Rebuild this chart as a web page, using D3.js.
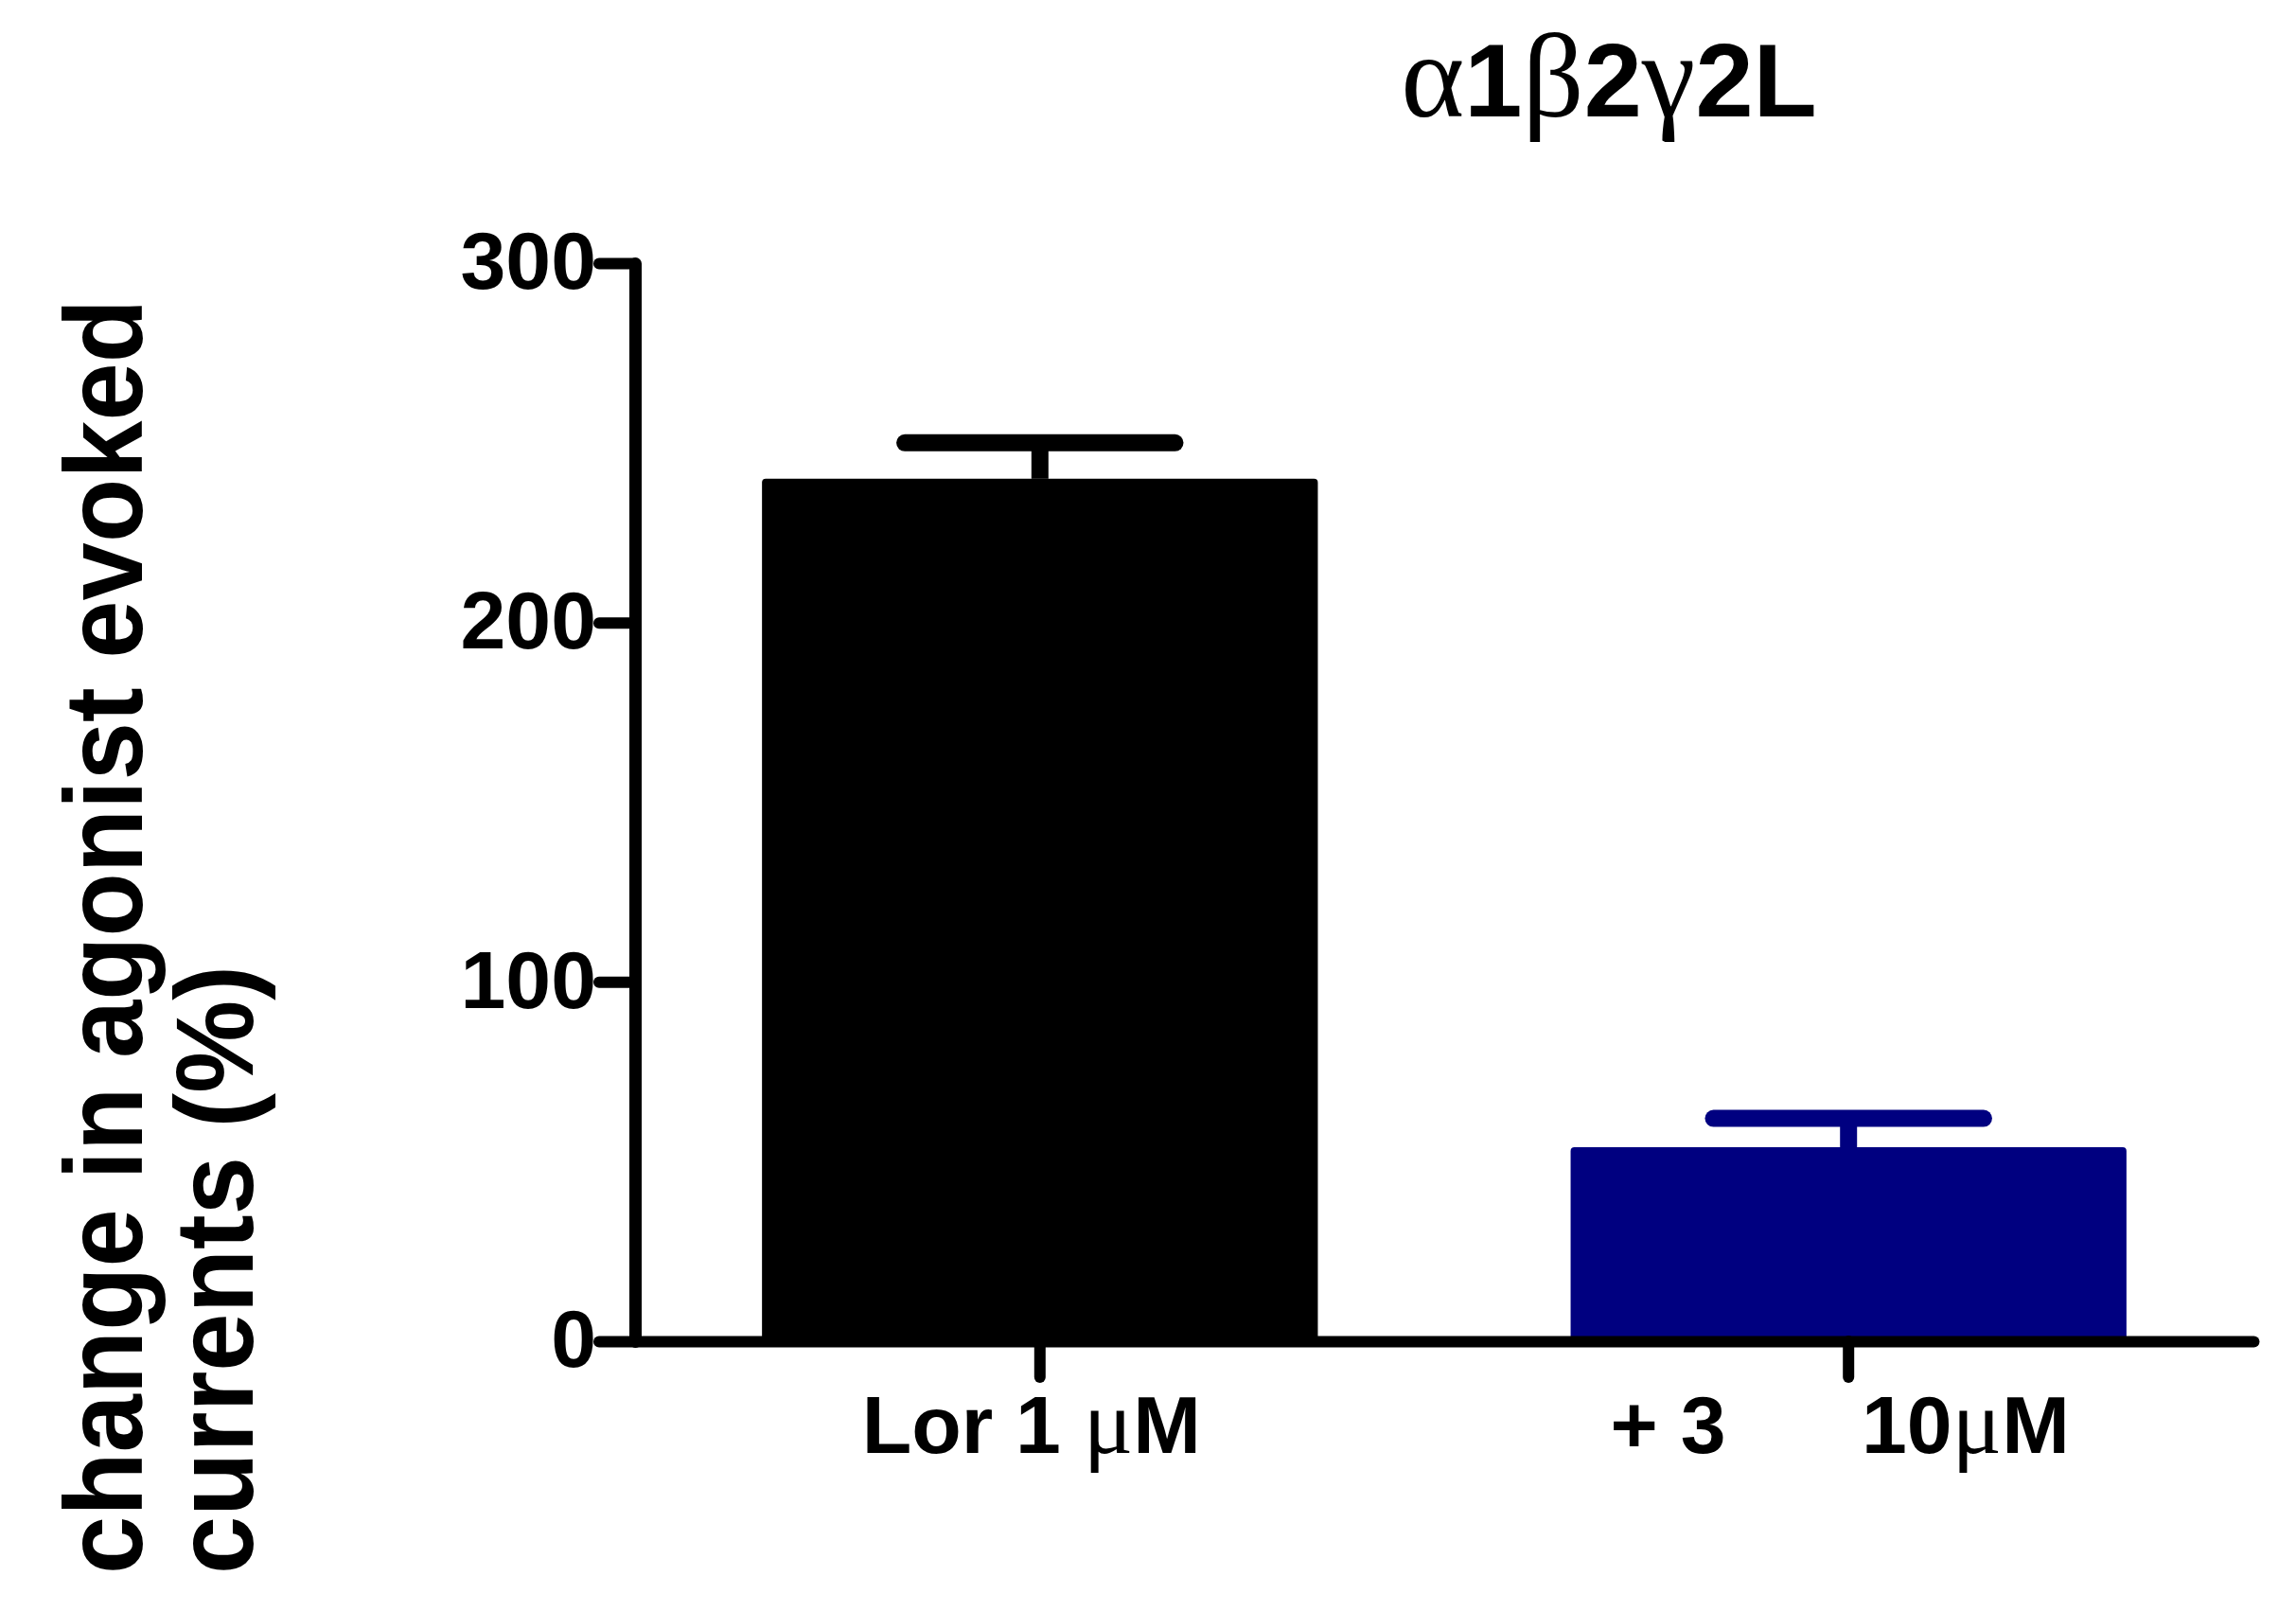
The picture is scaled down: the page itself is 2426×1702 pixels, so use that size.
<!DOCTYPE html>
<html><head><meta charset="utf-8">
<script src="https://cdn.jsdelivr.net/npm/d3@7"></script>
<style>body{margin:0;background:#fff} text{white-space:pre}</style>
</head><body>
<svg id="c" width="2426" height="1702"></svg>
<script>
const categories = ["Lor 1 μM", "+ 3      10μM"];
const means = [240, 54];
const sems = [10, 8];
const colors = ["#000000", "#000080"];
const yTicks = [0, 100, 200, 300];
const title = "α1β2γ2L";
const yLabelLines = ["change in agonist evoked", "currents (%)"];

const SANS = "'Liberation Sans', Arial, sans-serif";
const SERIF = "'Liberation Serif', 'Times New Roman', serif";
const greek = /[αβγμ]/;

function richText(sel, str, size, greekSize) {
  sel.text(null);
  const parts = str.split(/([αβγμ])/).filter(s => s.length);
  parts.forEach(p => {
    const g = greek.test(p);
    sel.append("tspan")
      .attr("font-family", g ? SERIF : SANS)
      .attr("font-weight", g ? "normal" : "bold")
      .attr("font-size", g ? greekSize : size)
      .text(p);
  });
}

const svg = d3.select("#c");
const y = d3.scaleLinear().domain([0, 300]).range([1417, 278]);
const x = d3.scaleBand().domain(categories).range([671, 2381])
  .paddingInner(0.3126).paddingOuter(0.157);

const data = categories.map((c, i) => ({c, m: means[i], s: sems[i], col: colors[i]}));

// bars
svg.append("g").selectAll("rect").data(data).join("rect")
  .attr("x", d => x(d.c)).attr("width", x.bandwidth())
  .attr("y", d => y(d.m)).attr("height", d => y(0) - y(d.m))
  .attr("rx", 4).attr("fill", d => d.col);

// error bars
const capHalf = x.bandwidth() * 0.243;
const eb = svg.append("g").selectAll("g").data(data).join("g");
eb.append("line")
  .attr("x1", d => x(d.c) + x.bandwidth() / 2).attr("x2", d => x(d.c) + x.bandwidth() / 2)
  .attr("y1", d => y(d.m)).attr("y2", d => y(d.m + d.s))
  .attr("stroke", d => d.col).attr("stroke-width", 18);
eb.append("line")
  .attr("x1", d => x(d.c) + x.bandwidth() / 2 - capHalf).attr("x2", d => x(d.c) + x.bandwidth() / 2 + capHalf)
  .attr("y1", d => y(d.m + d.s)).attr("y2", d => y(d.m + d.s))
  .attr("stroke", d => d.col).attr("stroke-width", 18).attr("stroke-linecap", "round");

// y axis
const ya = svg.append("g").attr("transform", "translate(671,0)")
  .call(d3.axisLeft(y).tickValues(yTicks).tickSize(38).tickSizeOuter(0).tickPadding(3));
ya.select(".domain").attr("stroke", "#000").attr("stroke-width", 13).attr("stroke-linecap", "round");
ya.selectAll(".tick line").attr("stroke", "#000").attr("stroke-width", 12).attr("stroke-linecap", "round");
ya.selectAll(".tick text").attr("font-family", SANS).attr("font-weight", "bold")
  .attr("font-size", 86).attr("fill", "#000").attr("dy", "0.31em");

// x axis
const xa = svg.append("g").attr("transform", "translate(0,1417)")
  .call(d3.axisBottom(x).tickSize(38).tickSizeOuter(0));
xa.select(".domain").attr("stroke", "#000").attr("stroke-width", 12).attr("stroke-linecap", "round");
xa.selectAll(".tick line").attr("stroke", "#000").attr("stroke-width", 12).attr("stroke-linecap", "round");
xa.selectAll(".tick text").attr("y", 118).attr("dy", 0).attr("fill", "#000")
  .attr("dx", -9)
  .each(function (d) { richText(d3.select(this), d, 86, 98); });

// title
richText(svg.append("text").attr("x", 1700).attr("y", 123).attr("text-anchor", "middle").attr("fill", "#000"),
  title, 110, 128);

// y label
yLabelLines.forEach((l, i) => {
  svg.append("text")
    .attr("transform", `translate(${150 + i * 117},1663) rotate(-90) scale(0.95,1)`)
    .attr("font-family", SANS).attr("font-weight", "bold").attr("font-size", 116)
    .attr("fill", "#000").text(l);
});
</script>
</body></html>
